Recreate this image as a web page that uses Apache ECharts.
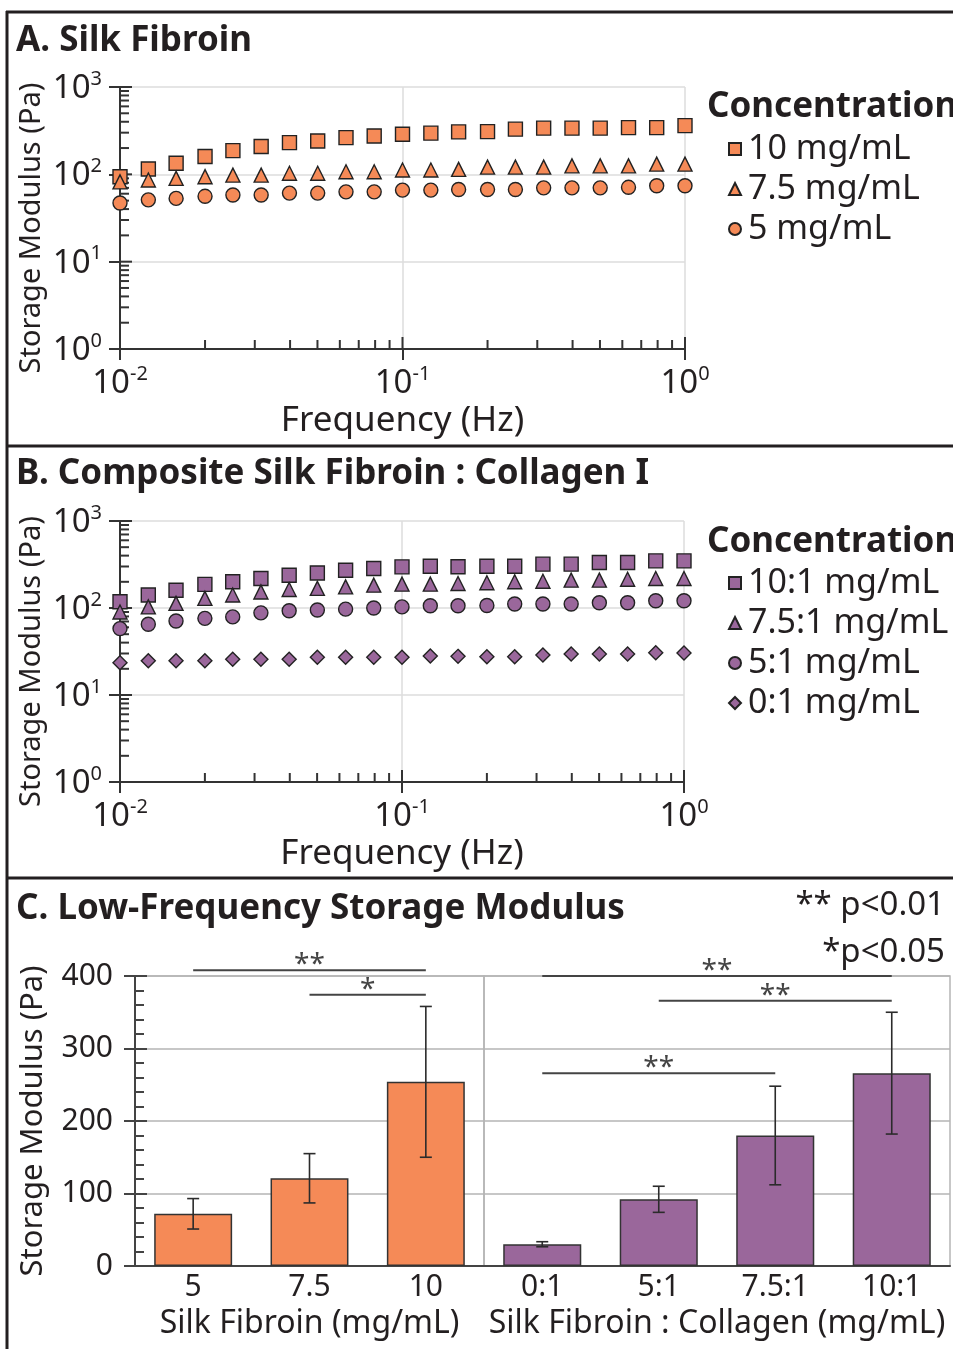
<!DOCTYPE html>
<html>
<head>
<meta charset="utf-8">
<script src="https://cdn.jsdelivr.net/npm/echarts@6.0.0/dist/echarts.min.js"></script>
<style>
html,body{margin:0;padding:0;background:#fff;}
#chart{width:953px;height:1349px;}
</style>
</head>
<body>
<div id="chart"></div>
<script>
// frequency sweep (Hz), 10 points per decade
var freq = [0.01, 0.0126, 0.0158, 0.02, 0.0251, 0.0316, 0.0398, 0.0501, 0.0631, 0.0794,
            0.1, 0.126, 0.158, 0.2, 0.251, 0.316, 0.398, 0.501, 0.631, 0.794, 1];

// A. silk fibroin storage modulus (Pa)
var sf10 = [94,115,134,160,187,208,231,241,263,275,288,296,306,308,329,338,338,338,343,343,361];
var sf75 = [82,86,90,94,98,98,103,103,107,107,112,112,114,121,121,121,125,125,125,131,131];
var sf5  = [47,51,53,56,58,58,61,61,63,63,66,66,67,67,67,70,70,70,71,74,74];

// B. composite silk fibroin : collagen (Pa)
var co10 = [118,141,160,187,200,218,238,253,272,285,297,302,298,302,302,319,319,333,333,348,348];
var co75 = [90,103,113,129,141,153,163,168,175,183,188,188,191,195,200,203,209,209,214,218,218];
var co5  = [58,65,71,76,79,88,93,95,97,100,103,106,106,107,111,111,111,115,115,121,121];
var co0  = [23.5,24.8,24.8,24.8,25.7,25.7,25.7,27.1,27.1,27.1,27.1,28.1,27.8,27.5,27.6,28.8,29.6,29.6,29.6,30.6,30.3];

// C. low-frequency storage modulus
var sfCats = ['5', '7.5', '10'];
var sfMean = [72, 121, 254];
var sfErr  = [21, 34, 104];
var coCats = ['0:1', '5:1', '7.5:1', '10:1'];
var coMean = [30, 92, 180, 266];
var coErr  = [3.5, 18, 68, 84];

// significance brackets: from category, to category, height, label
var sfSigFrom = [0, 1], sfSigTo = [2, 2], sfSigY = [408, 374], sfSigText = ['**', '*'];
var coSigFrom = [0, 1, 0], coSigTo = [3, 3, 2], coSigY = [400, 366, 266], coSigText = ['**', '**', '**'];

// log axis ticks
var yDecades = [1, 10, 100], yMajor = [1, 10, 100, 1000];
var xDecades = [0.01, 0.1], xMajor = [0.01, 0.1, 1];
var minorSteps = [2, 3, 4, 5, 6, 7, 8, 9];

var ORANGE = '#F58A57', PURPLE = '#9A679B', INK = '#231f20', AXIS = '#333';
var FONT = 'Noto Sans';

var chart = echarts.init(document.getElementById('chart'));

function pairs(ys){
	return freq.map(function(f, i){ return [f, ys[i]]; });
}

function tickData(){
	var d = [];
	yMajor.forEach(function(v){ d.push([0.01, v, 0]); });
	yDecades.forEach(function(dec){ minorSteps.forEach(function(s){ d.push([0.01, dec*s, 1]); }); });
	xMajor.forEach(function(v){ d.push([v, 1, 2]); });
	xDecades.forEach(function(dec){ minorSteps.forEach(function(s){ d.push([dec*s, 1, 3]); }); });
	return d;
}

function tickItem(params, api){
	var kind = api.value(2);
	var p = api.coord([api.value(0), api.value(1)]);
	var len = (kind % 2 === 0) ? 12 : 9;
	var shape = kind < 2
		? {x1: p[0], y1: p[1], x2: p[0] + len, y2: p[1]}
		: {x1: p[0], y1: p[1], x2: p[0], y2: p[1] - len};
	return {type: 'line', shape: shape, style: {stroke: AXIS, lineWidth: 2}};
}

function errorItem(params, api){
	var i = api.value(0), m = api.value(1), e = api.value(2);
	var hi = api.coord([i, m + e]), lo = api.coord([i, m - e]);
	var st = {stroke: '#2b2b2b', lineWidth: 1.6};
	return {type: 'group', children: [
		{type: 'line', shape: {x1: hi[0], y1: hi[1], x2: lo[0], y2: lo[1]}, style: st},
		{type: 'line', shape: {x1: hi[0]-6, y1: hi[1], x2: hi[0]+6, y2: hi[1]}, style: st},
		{type: 'line', shape: {x1: lo[0]-6, y1: lo[1], x2: lo[0]+6, y2: lo[1]}, style: st}
	]};
}

function sigRender(labels){
	return function(params, api){
		var a = api.coord([api.value(0), api.value(2)]);
		var b = api.coord([api.value(1), api.value(2)]);
		return {type: 'group', children: [
			{type: 'line', shape: {x1: a[0], y1: a[1], x2: b[0], y2: b[1]}, style: {stroke: '#444', lineWidth: 2}},
			{type: 'text', x: (a[0] + b[0]) / 2, y: a[1] - 5, style: {
				text: labels[params.dataIndex], fontFamily: FONT, fontSize: 28, fill: '#444',
				align: 'center', verticalAlign: 'middle'}}
		]};
	};
}

function zip3(a, b, c){
	return a.map(function(v, i){ return [v, b[i], c[i]]; });
}

var supRich = {
	b: {fontFamily: FONT, fontSize: 33, color: INK, lineHeight: 36, verticalAlign: 'bottom'},
	s: {fontFamily: FONT, fontSize: 20, color: INK, lineHeight: 20, verticalAlign: 'top'}
};
function powLabel(v){
	return '{b|10}{s|' + Math.round(Math.log10(v)) + '}';
}

function logX(grid, gap){
	return {
		gridIndex: grid, type: 'log', logBase: 10, min: 0.01, max: 1,
		axisLine: {lineStyle: {color: AXIS, width: 2}},
		axisTick: {length: 11, lineStyle: {color: AXIS, width: 2}},
		axisLabel: {formatter: powLabel, rich: supRich, margin: 15},
		splitLine: {show: true, lineStyle: {color: '#dcdcdc', width: 1.5}},
		minorTick: {show: false},
		name: 'Frequency (Hz)', nameLocation: 'middle', nameGap: gap, nameMoveOverlap: false,
		nameTextStyle: {fontFamily: FONT, fontSize: 35, color: INK}
	};
}
function logY(grid){
	return {
		gridIndex: grid, type: 'log', logBase: 10, min: 1, max: 1000,
		axisLine: {lineStyle: {color: AXIS, width: 2}},
		axisTick: {length: 11, lineStyle: {color: AXIS, width: 2}},
		axisLabel: {formatter: powLabel, rich: supRich, margin: 18},
		splitLine: {show: true, lineStyle: {color: '#dcdcdc', width: 1.5}},
		name: 'Storage Modulus (Pa)', nameLocation: 'middle', nameGap: 74, nameMoveOverlap: false,
		nameTextStyle: {fontFamily: FONT, fontSize: 29, color: INK, padding: [0, 20, 0, 0]}
	};
}

function scatter(name, ys, x, y, symbol, color, size){
	return {
		name: name, type: 'scatter', xAxisIndex: x, yAxisIndex: y,
		symbol: symbol, symbolSize: size, data: pairs(ys), z: 5,
		itemStyle: {color: color, borderColor: '#222', borderWidth: 1.4, opacity: 1}
	};
}

function catX(grid, cats, name){
	return {
		gridIndex: grid, type: 'category', data: cats,
		axisLine: {lineStyle: {color: '#444', width: 2}},
		axisTick: {interval: function(i){ return i === 0; }, length: 32, lineStyle: {color: '#444', width: 2}},
		axisLabel: {fontFamily: FONT, fontSize: 30, color: INK, margin: 6},
		name: name, nameLocation: 'middle', nameGap: 42, nameMoveOverlap: false,
		nameTextStyle: {fontFamily: FONT, fontSize: 32, color: INK}
	};
}

function legendBox(items, top){
	return {
		data: items, orient: 'vertical', left: 723, top: top,
		itemWidth: 12, itemHeight: 12, itemGap: 4, selectedMode: false,
		textStyle: {fontFamily: FONT, fontSize: 34, color: INK, lineHeight: 36, padding: [0, 0, 0, 2]}
	};
}

var titleStyle = {fontFamily: FONT, fontSize: 35, fontWeight: 'bold', color: INK};
var plainStyle = {fontFamily: FONT, fontSize: 33, fontWeight: 'normal', color: INK};

var option = {
	backgroundColor: '#fff',
	animation: false,
	title: [
		{text: 'A. Silk Fibroin', left: 16, top: 24, padding: 0, textStyle: titleStyle},
		{text: 'B. Composite Silk Fibroin : Collagen I', left: 16, top: 457, padding: 0, textStyle: titleStyle},
		{text: 'C. Low-Frequency Storage Modulus', left: 16, top: 892, padding: 0, textStyle: titleStyle},
		{text: 'Concentration', left: 707, top: 90, padding: 0, textStyle: titleStyle},
		{text: 'Concentration', left: 707, top: 525, padding: 0, textStyle: titleStyle},
		{text: '** p<0.01', right: 8, top: 889, padding: 0, textStyle: plainStyle},
		{text: '*p<0.05', right: 8, top: 936, padding: 0, textStyle: plainStyle}
	],
	legend: [
		legendBox(['10 mg/mL', '7.5 mg/mL', '5 mg/mL'], 126),
		legendBox(['10:1 mg/mL', '7.5:1 mg/mL', '5:1 mg/mL', '0:1 mg/mL'], 560)
	],
	grid: [
		{left: 120, top: 87, width: 565, height: 262, outerBoundsMode: 'none'},
		{left: 120, top: 521, width: 564, height: 261, outerBoundsMode: 'none'},
		{left: 135, top: 976, width: 349, height: 290, show: true, borderColor: '#b5b5b5', borderWidth: 1.5, outerBoundsMode: 'none'},
		{left: 484, top: 976, width: 466, height: 290, show: true, borderColor: '#b5b5b5', borderWidth: 1.5, outerBoundsMode: 'none'}
	],
	xAxis: [
		logX(0, 55),
		logX(1, 55),
		catX(2, sfCats, 'Silk Fibroin (mg/mL)'),
		catX(3, coCats, 'Silk Fibroin : Collagen (mg/mL)')
	],
	yAxis: [
		logY(0),
		logY(1),
		{
			gridIndex: 2, type: 'value', position: 'left', min: 0, max: 400, interval: 100,
			axisLine: {show: true, lineStyle: {color: '#444', width: 2}},
			axisTick: {show: true, inside: true, length: 12, lineStyle: {color: '#444', width: 2}},
			minorTick: {show: true, splitNumber: 5, length: 9, lineStyle: {color: '#444', width: 2}},
			axisLabel: {fontFamily: FONT, fontSize: 30, color: INK, margin: 22},
			splitLine: {show: true, lineStyle: {color: '#b5b5b5', width: 1.5}},
			name: 'Storage Modulus (Pa)', nameLocation: 'middle', nameGap: 86, nameMoveOverlap: false,
			nameTextStyle: {fontFamily: FONT, fontSize: 31, color: INK}
		},
		{
			gridIndex: 2, type: 'value', position: 'left', offset: 0, min: 0, max: 400, interval: 100,
			axisLine: {show: false, onZero: false}, axisLabel: {show: false}, splitLine: {show: false},
			axisTick: {show: true, length: 11, lineStyle: {color: '#444', width: 2}}
		},
		{
			gridIndex: 3, type: 'value', min: 0, max: 400, interval: 100,
			axisLine: {show: false}, axisLabel: {show: false}, axisTick: {show: false},
			splitLine: {show: true, lineStyle: {color: '#b5b5b5', width: 1.5}}
		}
	],
	series: [
		{type: 'custom', xAxisIndex: 0, yAxisIndex: 0, data: tickData(), renderItem: tickItem, silent: true, z: 1, encode: {x: 0, y: 1}},
		{type: 'custom', xAxisIndex: 1, yAxisIndex: 1, data: tickData(), renderItem: tickItem, silent: true, z: 1, encode: {x: 0, y: 1}},
		scatter('10 mg/mL', sf10, 0, 0, 'rect', ORANGE, 14),
		scatter('7.5 mg/mL', sf75, 0, 0, 'triangle', ORANGE, 14),
		scatter('5 mg/mL', sf5, 0, 0, 'circle', ORANGE, 14),
		scatter('10:1 mg/mL', co10, 1, 1, 'rect', PURPLE, 14),
		scatter('7.5:1 mg/mL', co75, 1, 1, 'triangle', PURPLE, 14),
		scatter('5:1 mg/mL', co5, 1, 1, 'circle', PURPLE, 14),
		scatter('0:1 mg/mL', co0, 1, 1, 'diamond', PURPLE, 14),
		{
			type: 'bar', xAxisIndex: 2, yAxisIndex: 2, data: sfMean, barWidth: '67%',
			itemStyle: {color: ORANGE, borderColor: '#333', borderWidth: 1.5}
		},
		{
			type: 'bar', xAxisIndex: 3, yAxisIndex: 4, data: coMean, barWidth: '67%',
			itemStyle: {color: PURPLE, borderColor: '#333', borderWidth: 1.5}
		},
		{type: 'custom', xAxisIndex: 2, yAxisIndex: 2, data: zip3([0, 1, 2], sfMean, sfErr), renderItem: errorItem, z: 4, encode: {x: 0, y: 1}},
		{type: 'custom', xAxisIndex: 3, yAxisIndex: 4, data: zip3([0, 1, 2, 3], coMean, coErr), renderItem: errorItem, z: 4, encode: {x: 0, y: 1}},
		{type: 'custom', xAxisIndex: 2, yAxisIndex: 2, data: zip3(sfSigFrom, sfSigTo, sfSigY), renderItem: sigRender(sfSigText), z: 4, clip: false, encode: {x: [0, 1], y: 2}},
		{type: 'custom', xAxisIndex: 3, yAxisIndex: 4, data: zip3(coSigFrom, coSigTo, coSigY), renderItem: sigRender(coSigText), z: 4, clip: false, encode: {x: [0, 1], y: 2}}
	],
	graphic: [
		{type: 'line', shape: {x1: 6, y1: 12, x2: 953, y2: 12}, style: {stroke: INK, lineWidth: 3}},
		{type: 'line', shape: {x1: 7, y1: 11, x2: 7, y2: 1349}, style: {stroke: INK, lineWidth: 3}},
		{type: 'line', shape: {x1: 6, y1: 446, x2: 953, y2: 446}, style: {stroke: INK, lineWidth: 3}},
		{type: 'line', shape: {x1: 6, y1: 878, x2: 953, y2: 878}, style: {stroke: INK, lineWidth: 3}}
	]
};

chart.setOption(option);
</script>
</body>
</html>
